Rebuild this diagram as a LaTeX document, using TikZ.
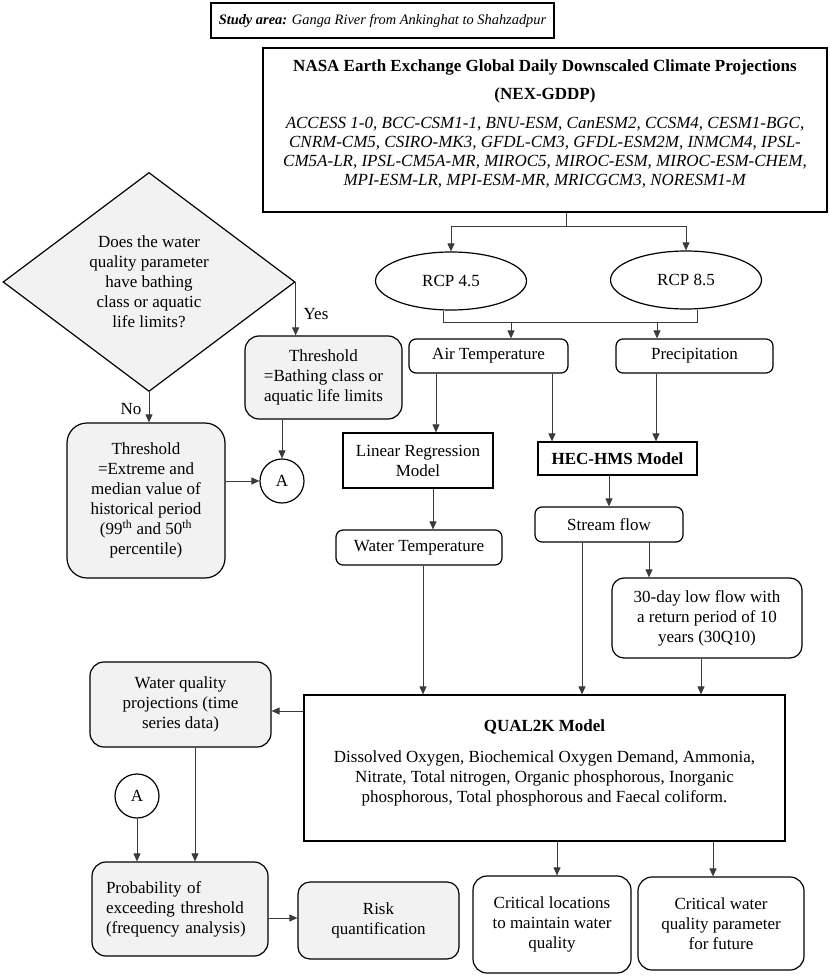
\documentclass[tikz,border=0pt]{standalone}
\usepackage{fontspec}
\setmainfont{Liberation Serif}
\usetikzlibrary{shapes.geometric,arrows.meta,calc}
\definecolor{boxgray}{HTML}{F2F2F2}
\definecolor{linegray}{HTML}{3A3A3A}
\begin{document}
\begin{tikzpicture}[x=1pt,y=-1pt,
  every node/.style={font=\fontsize{17}{20}\selectfont, inner sep=0pt, align=center},
  plain/.style={draw=black, line width=1.2pt, rectangle},
  rbox/.style={plain, rounded corners=7pt},
  gbox/.style={plain, fill=boxgray, rounded corners=14pt},
  wbox/.style={plain, rounded corners=14pt},
  arr/.style={draw=linegray, line width=0.9pt, -{Triangle[length=8pt,width=7pt]}},
  ln/.style={draw=linegray, line width=0.9pt},
]
\useasboundingbox (0,0) rectangle (829,976);

% top
\node[plain, minimum width=343, minimum height=35, font=\fontsize{14.4}{17}\selectfont] (study) at (382.5,20.5)
  {\textbf{\textit{Study area:}} \textit{Ganga River from Ankinghat to Shahzadpur}};
\node[plain, minimum width=564, minimum height=164] (nasa) at (545,130) {};
\node[font=\fontsize{17}{19}\selectfont] (nasatext) at (545,124)
  {\textbf{NASA Earth Exchange Global Daily Downscaled Climate Projections}\\[9pt]
   \textbf{(NEX-GDDP)}\\[10pt]
   \textit{ACCESS 1-0, BCC-CSM1-1, BNU-ESM, CanESM2, CCSM4, CESM1-BGC,}\\
   \textit{CNRM-CM5, CSIRO-MK3, GFDL-CM3, GFDL-ESM2M, INMCM4, IPSL-}\\
   \textit{CM5A-LR, IPSL-CM5A-MR, MIROC5, MIROC-ESM, MIROC-ESM-CHEM,}\\
   \textit{MPI-ESM-LR, MPI-ESM-MR, MRICGCM3, NORESM1-M}};

\node[draw=black, line width=1.2pt, ellipse, minimum width=151, minimum height=58] (rcp45) at (451,281) {RCP 4.5};
\node[draw=black, line width=1.2pt, ellipse, minimum width=151, minimum height=58] (rcp85) at (686,280) {RCP 8.5};

\node[rbox, minimum width=159, minimum height=34] (airtemp) at (488.5,356) {Air Temperature};
\node[rbox, minimum width=157, minimum height=34] (precip) at (694.5,356) {Precipitation};
\node[plain, minimum width=150, minimum height=55] (linreg) at (418,460.5) {Linear Regression\\Model};
\node[plain, minimum width=159, minimum height=33] (hec) at (617.5,458.5) {\textbf{HEC-HMS Model}};
\node[rbox, minimum width=148, minimum height=35] (stream) at (609,524.5) {Stream flow};
\node[rbox, minimum width=166, minimum height=35] (watertemp) at (419,547.5) {Water Temperature};
\node[wbox, rounded corners=12pt, minimum width=190, minimum height=80] (lowflow) at (707,618)
  {30-day low flow with\\a return period of 10\\years (30Q10)};

% left decision part
\node[draw=black, line width=1.2pt, fill=boxgray, diamond, aspect=1.333, minimum width=292, minimum height=219] (quest) at (149,282)
  {Does the water\\quality parameter\\have bathing\\class or aquatic\\life limits?};
\node[gbox, minimum width=157, minimum height=83] (thyes) at (323.5,377.5)
  {Threshold\\=Bathing class or\\aquatic life limits};
\node[gbox, rounded corners=20pt, minimum width=158, minimum height=155] (thno) at (146,500.5)
  {Threshold\\=Extreme and\\median value of\\historical period\\(99\textsuperscript{th} and 50\textsuperscript{th}\\percentile)};
\node[draw=black, line width=1.2pt, circle, minimum size=44] (A1) at (282,481) {A};
\node (yes) at (316,314) {Yes};
\node (no) at (131,409) {No};

% bottom
\node[plain, minimum width=481, minimum height=146] (qual2k) at (544.5,768) {};
\node (qualtext) at (544.5,763)
  {\textbf{QUAL2K Model}\\[11pt]
   Dissolved Oxygen, Biochemical Oxygen Demand, Ammonia,\\
   Nitrate, Total nitrogen, Organic phosphorous, Inorganic\\
   phosphorous, Total phosphorous and Faecal coliform.};
\node[gbox, minimum width=181, minimum height=85] (wqp) at (180.5,704.5)
  {Water quality\\projections (time\\series data)};
\node[draw=black, line width=1.2pt, circle, minimum size=44] (A2) at (137,796) {A};
\node[gbox, minimum width=176, minimum height=94, text width=148, align=left] (prob) at (180,909)
  {Probability of\\exceeding threshold\\(frequency analysis)};
\node[gbox, rounded corners=12pt, minimum width=161, minimum height=77] (risk) at (378.5,920.5)
  {Risk\\quantification};
\node[wbox, minimum width=158, minimum height=97] (critloc) at (552,924.5)
  {Critical locations\\to maintain water\\quality};
\node[wbox, minimum width=166, minimum height=93] (critwq) at (721,923.5)
  {Critical water\\quality parameter\\for future};

% connectors top
\coordinate (tick) at (566,226);
\draw[ln] (nasa.south -| tick) -- (tick);
\draw[ln] (rcp45.north |- tick) -- (rcp85.north |- tick);
\draw[arr] (rcp45.north |- tick) -- (rcp45.north);
\draw[arr] (rcp85.north |- tick) -- (rcp85.north);
\coordinate (mL) at (443,322);
\coordinate (mR) at (697,322);
\draw[ln] (rcp45.south -| mL) -- (mL) -- (mR) -- (rcp85.south -| mR);
\draw[arr] (mL -| 511,0) -- (airtemp.north -| 511,0);
\draw[arr] (mL -| 657,0) -- (precip.north -| 657,0);
\draw[arr] (airtemp.south -| 436,0) -- (linreg.north -| 436,0);
\draw[arr] (airtemp.south -| 552,0) -- (hec.north -| 552,0);
\draw[arr] (precip.south -| 656,0) -- (hec.north -| 656,0);
\draw[arr] (hec.south -| 609,0) -- (stream.north -| 609,0);
\draw[arr] (linreg.south -| 433,0) -- (watertemp.north -| 433,0);
\draw[arr] (stream.south -| 649,0) -- (lowflow.north -| 649,0);
\draw[arr] (watertemp.south -| 423,0) -- (qual2k.north -| 423,0);
\draw[arr] (stream.south -| 582,0) -- (qual2k.north -| 582,0);
\draw[arr] (lowflow.south -| 701,0) -- (qual2k.north -| 701,0);

% decision connectors
\draw[arr] (quest.east) -- (quest.east |- thyes.north);
\draw[arr] (quest.south) -- (quest.south |- thno.north);
\draw[arr] (A1.north |- thyes.south) -- (A1.north);
\draw[arr] (thno.east |- A1.west) -- (A1.west);

% bottom connectors
\draw[arr] (qual2k.west |- 0,711) -- (wqp.east |- 0,711);
\draw[arr] (wqp.south -| 195,0) -- (prob.north -| 195,0);
\draw[arr] (A2.south) -- (A2.south |- prob.north);
\draw[arr] (prob.east |- 0,918) -- (risk.west |- 0,918);
\draw[arr] (qual2k.south -| 557,0) -- (critloc.north -| 557,0);
\draw[arr] (qual2k.south -| 713,0) -- (critwq.north -| 713,0);
\end{tikzpicture}
\end{document}
